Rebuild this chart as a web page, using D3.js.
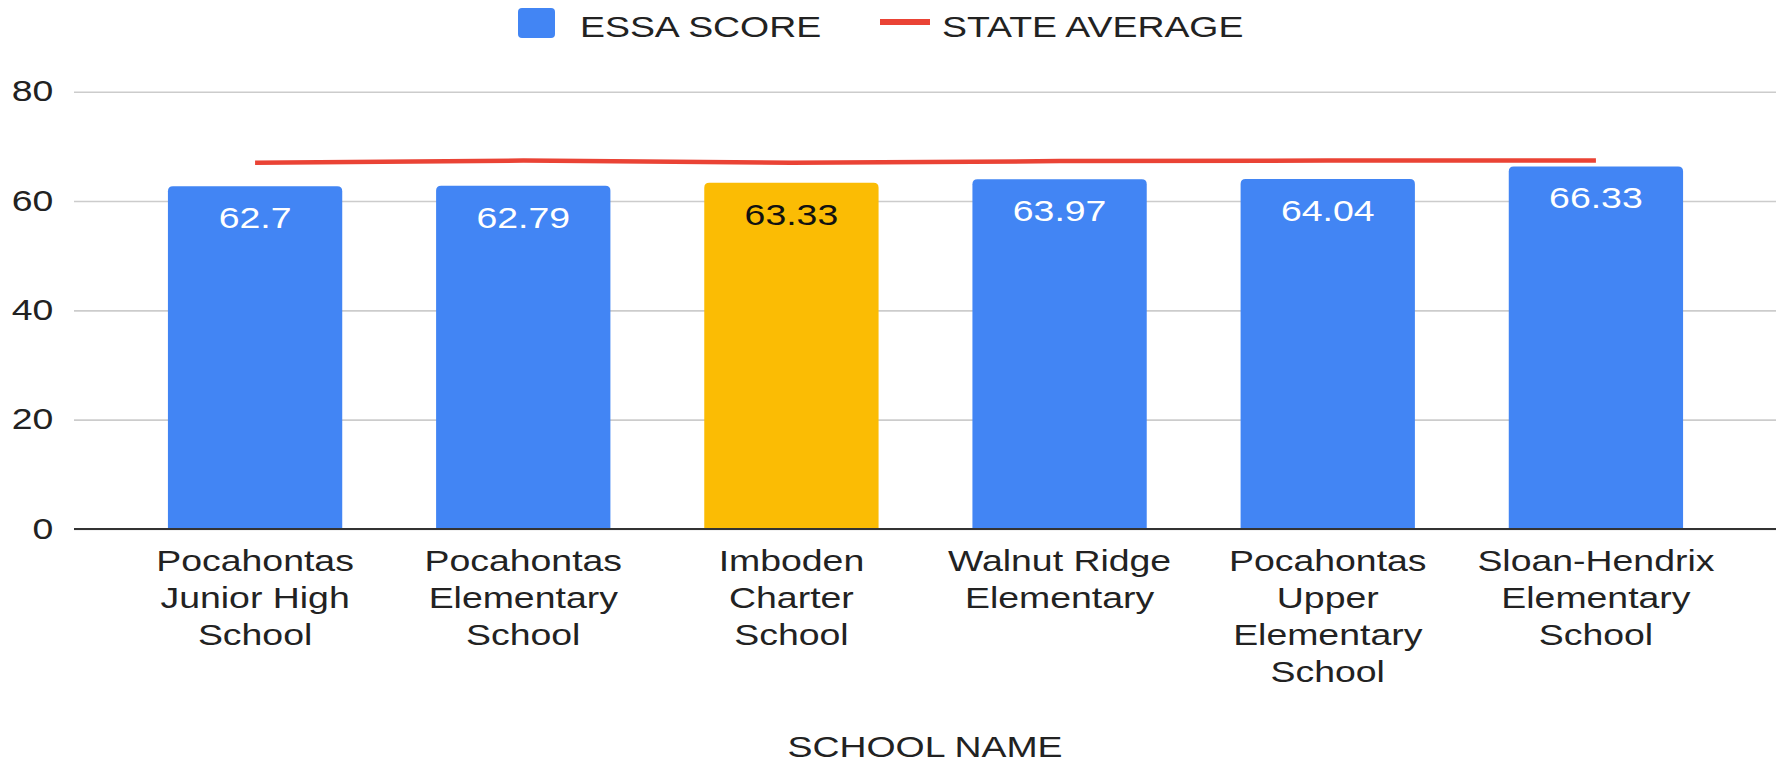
<!DOCTYPE html>
<html>
<head>
<meta charset="utf-8">
<script src="https://cdn.jsdelivr.net/npm/d3@7"></script>
<style>
  html, body { margin: 0; padding: 0; background: #fff; }
  svg { display: block; font-family: "Liberation Sans", Arial, sans-serif; }
</style>
</head>
<body>
<svg id="chart" width="1781" height="764"></svg>
<script>
// ---- data ----
const schools = [
  "Pocahontas\nJunior High\nSchool",
  "Pocahontas\nElementary\nSchool",
  "Imboden\nCharter\nSchool",
  "Walnut Ridge\nElementary",
  "Pocahontas\nUpper\nElementary\nSchool",
  "Sloan-Hendrix\nElementary\nSchool"
];
const essaScores = [62.7, 62.79, 63.33, 63.97, 64.04, 66.33];
const stateAverage = [67.0, 67.4, 67.0, 67.3, 67.4, 67.4];
const highlighted = [false, false, true, false, false, false];
const yTicks = [0, 20, 40, 60, 80];
const seriesNames = ["ESSA SCORE", "STATE AVERAGE"];
const xAxisTitle = "SCHOOL NAME";

// ---- layout ----
const W = 1781, H = 764;
const SX = 1.29;          // horizontal text stretch of the original picture
const FS = 29;            // font size
const plotLeft = 74, plotRight = 1776;
const yTop = 91.7, yBottom = 529;
const BLUE = "#4285f4", YELLOW = "#fbbc04", RED = "#ea4335", TEXT = "#222";

const svg = d3.select("#chart");

const x = d3.scaleBand().domain(d3.range(schools.length))
  .range([121, 1730]).paddingInner(0.35).paddingOuter(0.175);
const y = d3.scaleLinear().domain([0, 80]).range([yBottom, yTop]);

// gridlines + y tick labels
const yAxis = d3.axisLeft(y).tickValues(yTicks)
  .tickSize(-(plotRight - plotLeft)).tickPadding(16).tickFormat(d3.format("d"));
const gy = svg.append("g").attr("transform", `translate(${plotLeft},0)`).call(yAxis);
gy.select(".domain").remove();
gy.selectAll(".tick line").attr("stroke", "#cccccc").attr("stroke-width", 1.6);
gy.selectAll(".tick text")
  .attr("font-size", FS).attr("fill", TEXT)
  .attr("font-family", "Liberation Sans, Arial, sans-serif")
  .attr("transform", `scale(${SX},1)`);

// bars with rounded top corners
function topRounded(x0, y0, w, h, r) {
  r = Math.min(r, h, w / 2);
  return `M${x0},${y0 + h}V${y0 + r}Q${x0},${y0} ${x0 + r},${y0}H${x0 + w - r}Q${x0 + w},${y0} ${x0 + w},${y0 + r}V${y0 + h}Z`;
}
svg.append("g").selectAll("path").data(essaScores).join("path")
  .attr("d", (d, i) => topRounded(x(i), y(d), x.bandwidth(), y(0) - y(d), 5))
  .attr("fill", (d, i) => highlighted[i] ? YELLOW : BLUE);

// baseline
svg.append("line").attr("x1", plotLeft).attr("x2", plotRight)
  .attr("y1", y(0)).attr("y2", y(0)).attr("stroke", "#333").attr("stroke-width", 2.2);

// data labels
svg.append("g").selectAll("text").data(essaScores).join("text")
  .attr("transform", (d, i) => `translate(${x(i) + x.bandwidth() / 2},${y(d) + 42}) scale(${SX},1)`)
  .attr("text-anchor", "middle").attr("font-size", FS)
  .attr("fill", (d, i) => highlighted[i] ? "#111" : "#fff")
  .text(d => d);

// state average line
const line = d3.line()
  .x((d, i) => x(i) + x.bandwidth() / 2)
  .y(d => y(d));
svg.append("path").datum(stateAverage)
  .attr("d", line).attr("fill", "none")
  .attr("stroke", RED).attr("stroke-width", 4.5).attr("stroke-linejoin", "round");

// x axis labels
const xAxis = d3.axisBottom(x).tickSize(0).tickPadding(0).tickFormat(() => "");
const gx = svg.append("g").attr("transform", `translate(0,${yBottom})`).call(xAxis);
gx.select(".domain").remove();
gx.selectAll(".tick text").each(function (i) {
  const t = d3.select(this)
    .attr("font-size", FS).attr("fill", TEXT)
    .attr("font-family", "Liberation Sans, Arial, sans-serif")
    .attr("y", 0).attr("dy", null)
    .attr("transform", `scale(${SX},1)`);
  schools[i].split("\n").forEach((ln, k) => {
    t.append("tspan").attr("x", 0).attr("y", 42 + k * 37).text(ln);
  });
});

// axis title
svg.append("text")
  .attr("transform", `translate(925,757) scale(${SX},1)`)
  .attr("text-anchor", "middle").attr("font-size", FS).attr("fill", TEXT)
  .text(xAxisTitle);

// legend
const lg = svg.append("g");
lg.append("rect").attr("x", 518).attr("y", 8).attr("width", 37).attr("height", 30)
  .attr("rx", 4).attr("fill", BLUE);
lg.append("text").attr("transform", `translate(580,37) scale(${SX},1)`)
  .attr("font-size", FS).attr("fill", TEXT).text(seriesNames[0]);
lg.append("rect").attr("x", 880).attr("y", 19).attr("width", 50).attr("height", 6)
  .attr("fill", RED);
lg.append("text").attr("transform", `translate(942,37) scale(${SX},1)`)
  .attr("font-size", FS).attr("fill", TEXT).text(seriesNames[1]);
</script>
</body>
</html>
